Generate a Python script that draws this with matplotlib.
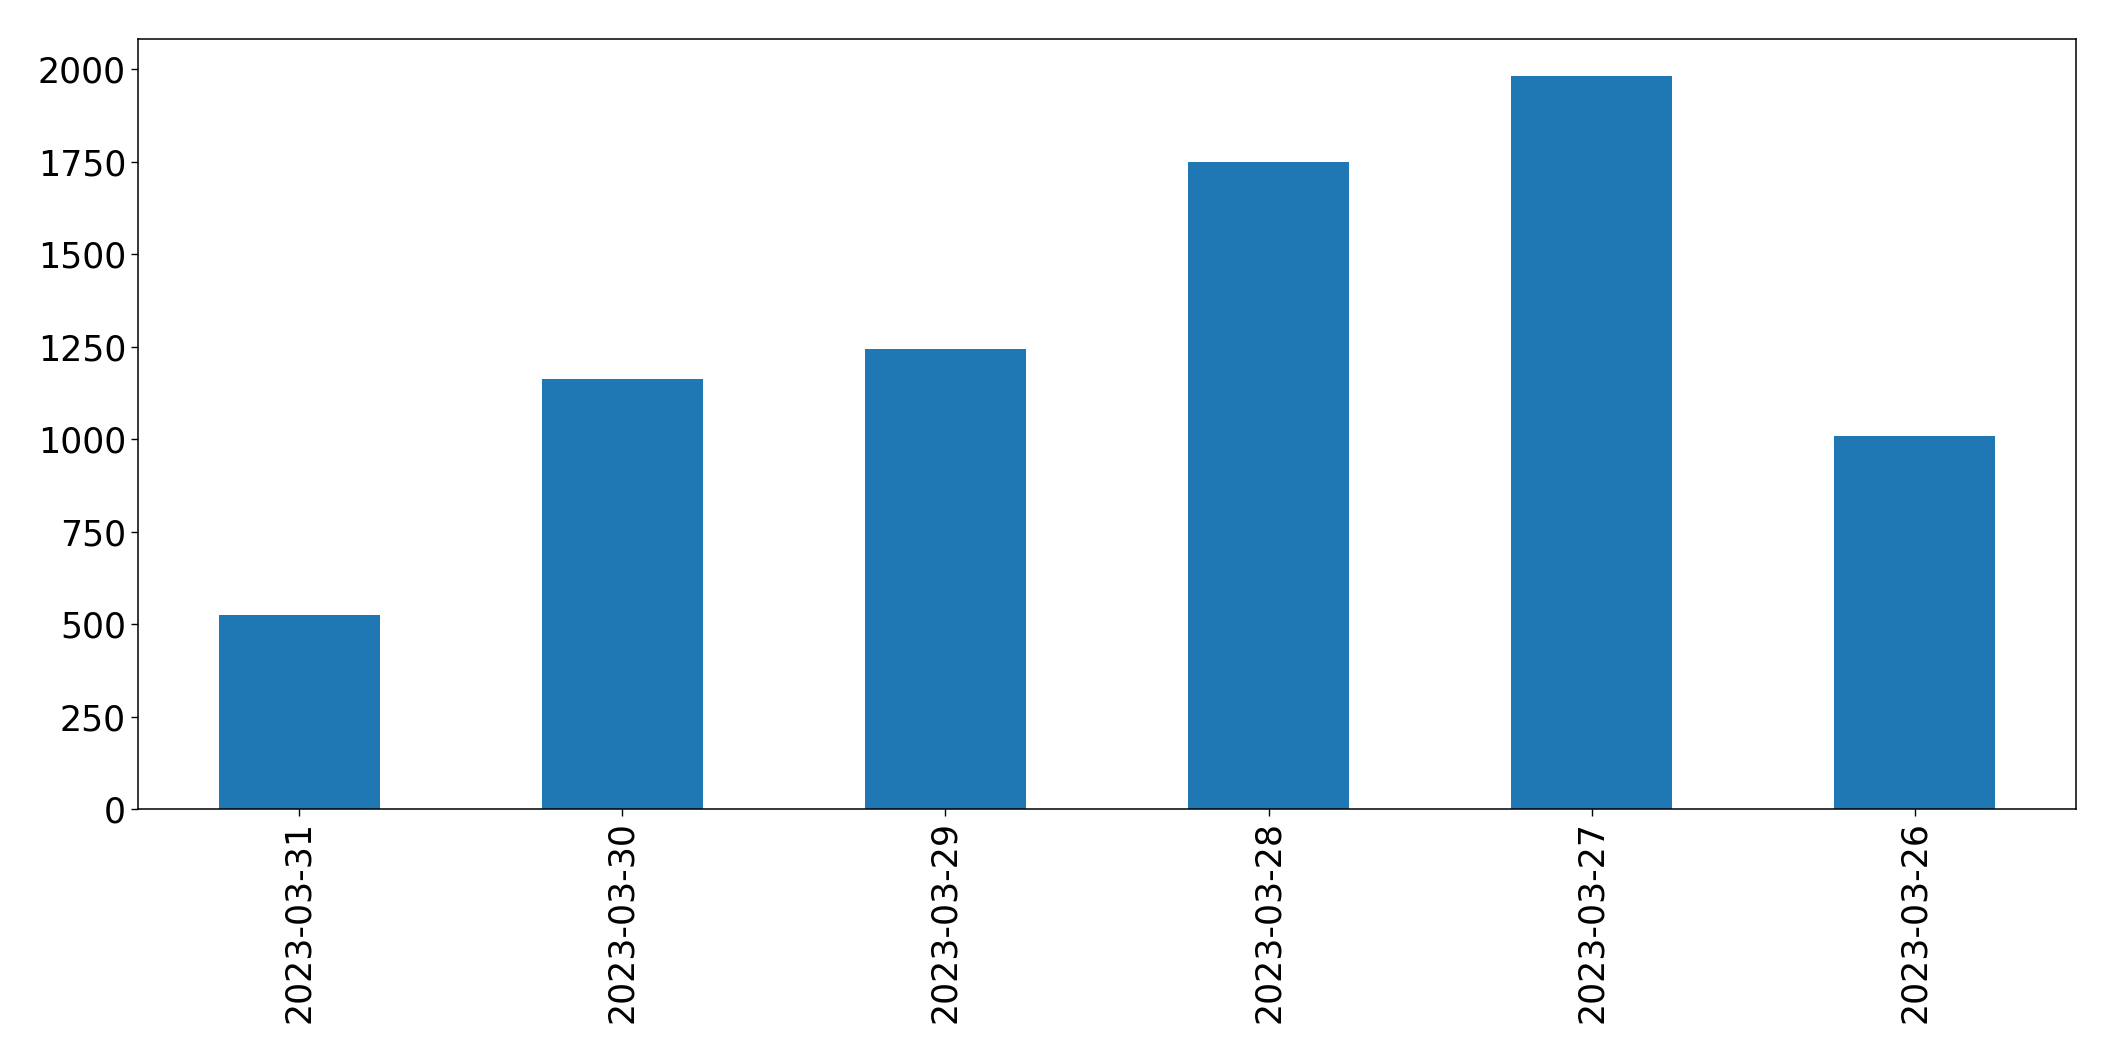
import matplotlib
matplotlib.use("Agg")
import matplotlib.pyplot as plt

dates = ["2023-03-31", "2023-03-30", "2023-03-29", "2023-03-28", "2023-03-27", "2023-03-26"]
values = [525, 1164, 1245, 1751, 1983, 1010]

fig = plt.figure(figsize=(21.15, 10.61), dpi=100)
ax = fig.add_axes([0.0652, 0.2372, 0.9164, 0.7260])
x = list(range(len(dates)))
ax.bar(x, values, width=0.5, color="#1f77b4")
ax.set_xlim(-0.5, len(dates) - 0.5)
ax.set_xticks(x)
ax.set_xticklabels(dates, rotation=90)
ax.set_yticks([0, 250, 500, 750, 1000, 1250, 1500, 1750, 2000])
ax.tick_params(axis="both", labelsize=25, length=5, width=1)
for s in ax.spines.values():
    s.set_linewidth(1.1)
fig.savefig("out.png", dpi=100)
